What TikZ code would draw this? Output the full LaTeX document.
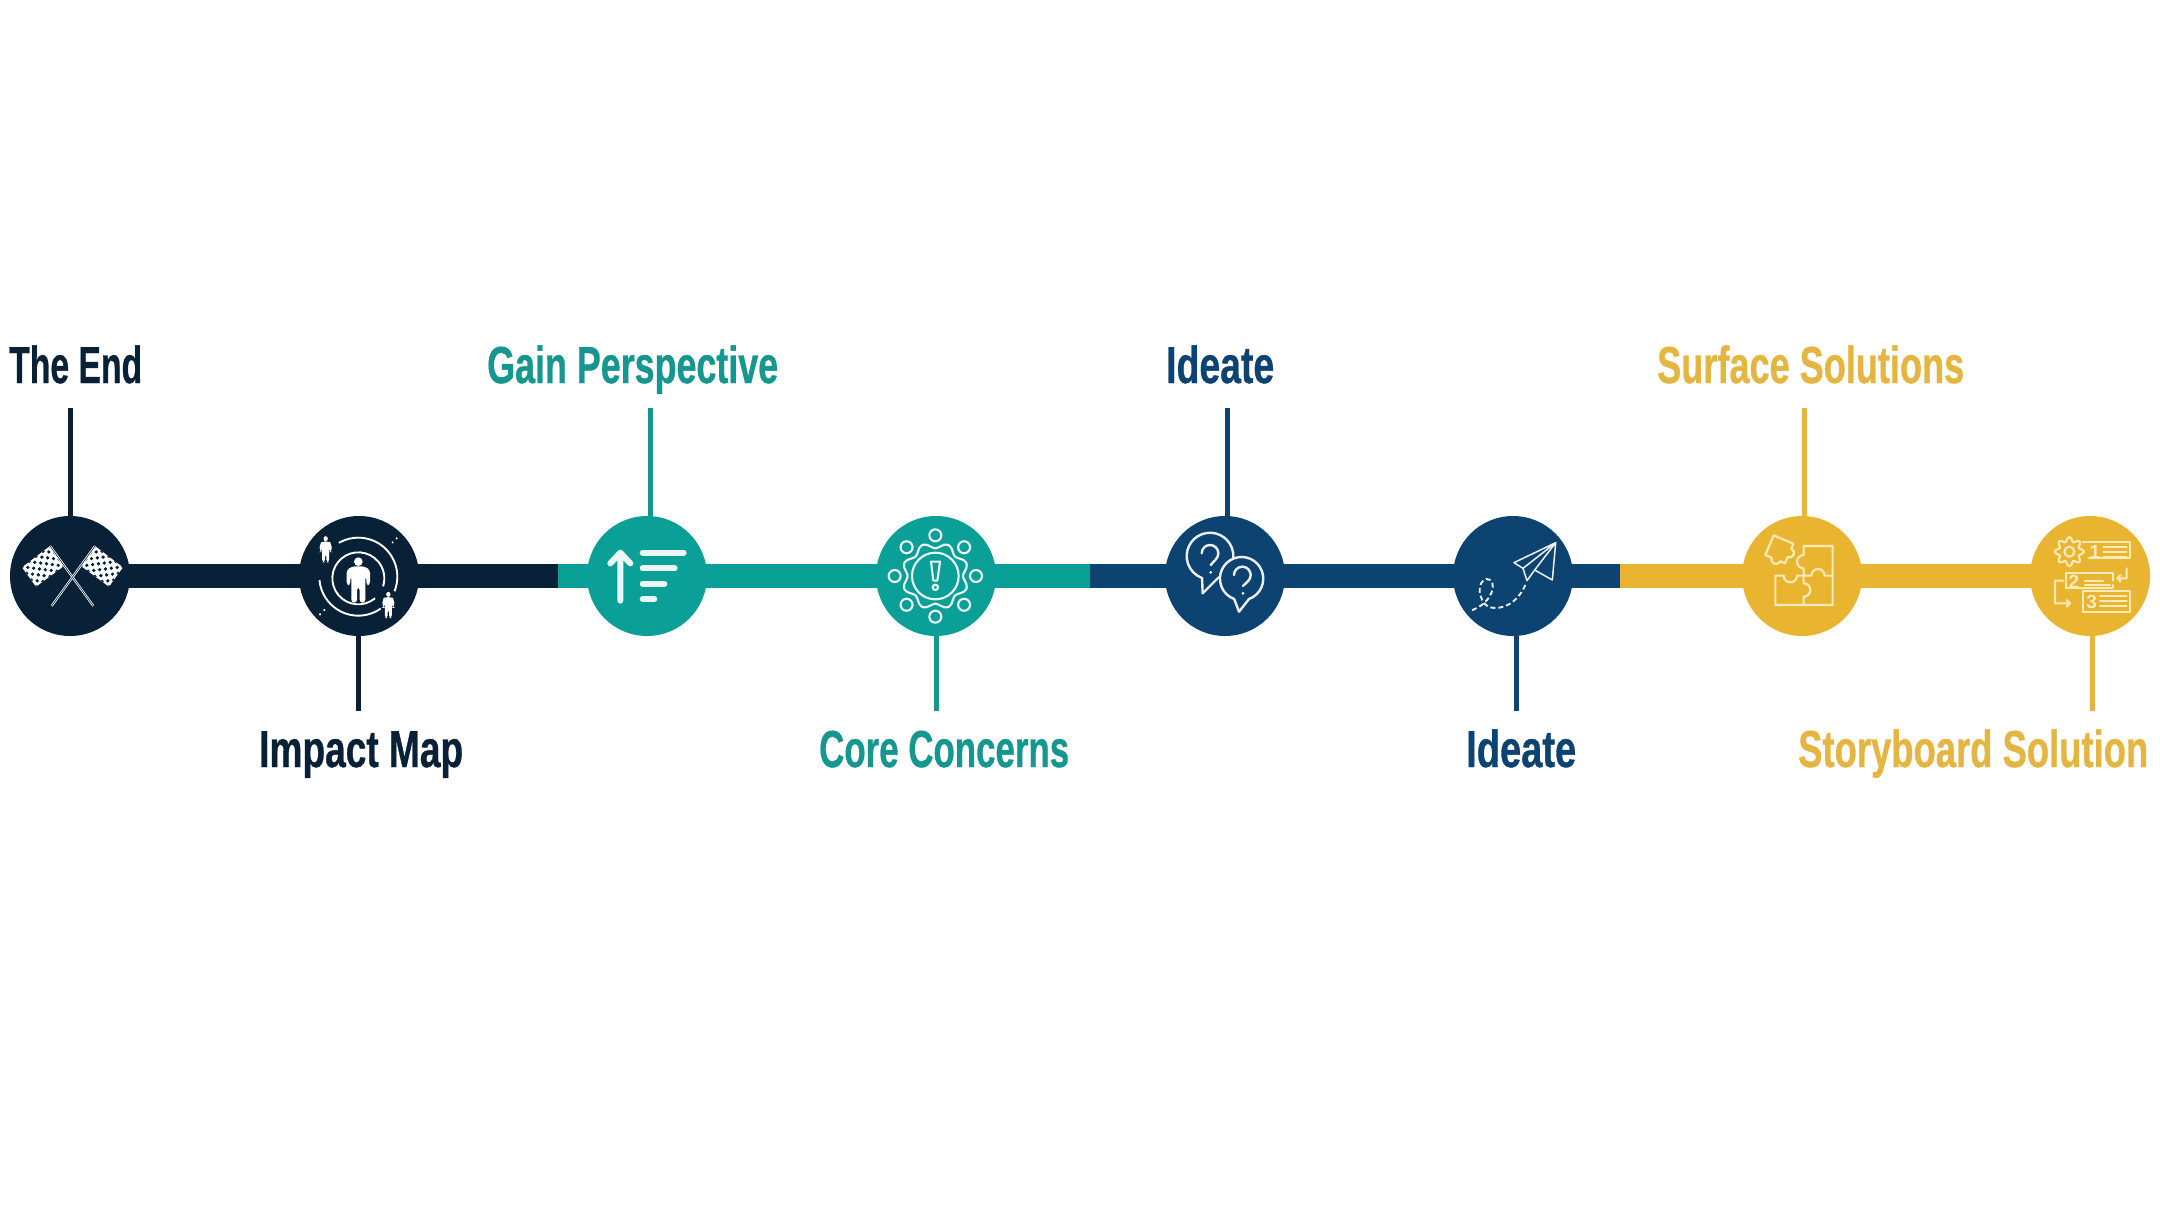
\documentclass[tikz,border=0pt]{standalone}
\usepackage{fontspec}
\usepackage{graphicx}
\usetikzlibrary{backgrounds}
\newfontfamily\lab[BoldFeatures={FakeBold=0.8}]{Liberation Sans}
\newfontfamily\dig{Liberation Sans}
\definecolor{navy}{HTML}{082137}
\definecolor{teal2}{HTML}{0AA098}
\definecolor{blue2}{HTML}{0C4370}
\definecolor{gold}{HTML}{E9B430}
\definecolor{tealT}{HTML}{15978F}
\definecolor{goldT}{HTML}{E4B540}
\definecolor{goldI}{HTML}{FBEBB8}
\newcommand{\lbltext}[2]{\resizebox{#1pt}{\height}{\fontsize{52}{60}\selectfont\lab\bfseries #2}}
\newcommand{\personicon}{%
  \fill (0,-55) circle[radius=13];
  \fill[rounded corners=3] (-18,-41)--(18,-41)--(35,-30)--(35,15)--(24,15)--(24,-12)--(21,-12)--(21,68)--(4,68)--(4,22)--(-4,22)--(-4,68)--(-21,68)--(-21,-12)--(-24,-12)--(-24,15)--(-35,15)--(-35,-30)--cycle;
}
\tikzset{
  hub/.style={circle,minimum size=120pt,inner sep=0pt,fill=#1},
  bar/.style={line width=24pt,draw=#1},
  stem/.style={line width=5pt,draw=#1},
  label/.style={anchor=base west,inner sep=0pt,text=#1},
  crop/.style={scale=0.33333},
  ico/.style={draw=#1,line width=2.1pt,line cap=round,line join=round},
}
\begin{document}
\begin{tikzpicture}[yscale=-1,x=1pt,y=1pt]
\useasboundingbox (0,0) rectangle (2160,1215);
% hubs
\node[hub=navy]  (c1) at (70,576)   {};
\node[hub=navy]  (c2) at (359,576)  {};
\node[hub=teal2] (c3) at (647,576)  {};
\node[hub=teal2] (c4) at (936,576)  {};
\node[hub=blue2] (c5) at (1225,576) {};
\node[hub=blue2] (c6) at (1513,576) {};
\node[hub=gold]  (c7) at (1802,576) {};
\node[hub=gold]  (c8) at (2090,576) {};
\coordinate (b1) at (558,576);
\coordinate (b2) at (1090,576);
\coordinate (b3) at (1620,576);
\begin{scope}[on background layer]
  \fill[white] (0,0) rectangle (2160,1215);
  \draw[bar=navy] (c1.center)--(c2.center)--(b1);
  \draw[bar=teal2] (b1)--(c3.center)--(c4.center)--(b2);
  \draw[bar=blue2] (b2)--(c5.center)--(c6.center)--(b3);
  \draw[bar=gold] (b3)--(c7.center)--(c8.center);
\end{scope}
% stems
\coordinate (s1) at (70,408);
\coordinate (s2) at (358,711);
\coordinate (s3) at (650,408);
\coordinate (s4) at (936,711);
\coordinate (s5) at (1227,408);
\coordinate (s6) at (1516,711);
\coordinate (s7) at (1804,408);
\coordinate (s8) at (2092,711);
\draw[stem=navy]  (s1)--(s1|-c1.north);
\draw[stem=navy]  (s2)--(s2|-c2.south);
\draw[stem=tealT] (s3)--(s3|-c3.north);
\draw[stem=tealT] (s4)--(s4|-c4.south);
\draw[stem=blue2] (s5)--(s5|-c5.north);
\draw[stem=blue2] (s6)--(s6|-c6.south);
\draw[stem=goldT] (s7)--(s7|-c7.north);
\draw[stem=goldT] (s8)--(s8|-c8.south);
% labels
\node[label=navy]  (t1) at (9,383)    {\lbltext{133}{The End}};
\node[label=navy]  (t2) at (259,767)  {\lbltext{204}{Impact Map}};
\node[label=tealT] (t3) at (487,383)  {\lbltext{291}{Gain Perspective}};
\node[label=tealT] (t4) at (819,767)  {\lbltext{250}{Core Concerns}};
\node[label=blue2] (t5) at (1166,383) {\lbltext{108}{Ideate}};
\node[label=blue2] (t6) at (1466,767) {\lbltext{110}{Ideate}};
\node[label=goldT] (t7) at (1657,383) {\lbltext{307}{Surface Solutions}};
\node[label=goldT] (t8) at (1798,767) {\lbltext{350}{Storyboard Solution}};
% icon 1: flags
\begin{scope}[shift={(0,510)},crop]
  \foreach \ax/\sx in {150/-1,285/1}{
    \fill[white] (\ax,108) -- ++({\sx*(-42)},60) -- ++({\sx*84},62) -- ++({\sx*42},-58) -- cycle;
    \begin{scope}
      \clip (\ax,108) -- ++({\sx*(-42)},60) -- ++({\sx*84},62) -- ++({\sx*42},-58) -- cycle;
      \foreach \i in {0,...,8}\foreach \j in {0,...,6}{
        \pgfmathparse{int(mod(\i+\j,2))}
        \ifnum\pgfmathresult=0
        \fill[navy] ({\ax+\sx*(84*\i/8-42*\j/6)},{108+62*\i/8+60*\j/6}) circle[radius=5.5];
        \fi
      }
    \end{scope}
    \draw[white,line width=2.2pt] (\ax,108)--({\ax+\sx*(-130)},288);
    \draw[navy,line width=0.6pt] (\ax,108)--({\ax+\sx*(-130)},288);
  }
\end{scope}
% icon 2: people
\begin{scope}[shift={(290,510)},crop]
  \begin{scope}[white,shift={(205,210)}]\personicon\end{scope}
  \begin{scope}[white,shift={(107,118)},xscale=0.5,yscale=0.58]\personicon\end{scope}
  \begin{scope}[white,shift={(295,285)},xscale=0.5,yscale=0.58]\personicon\end{scope}
  \draw[white,line width=1.9pt] (205,205)++(50:78) arc[start angle=50,end angle=378,radius=78];
  \draw[white,line width=1.9pt] (205,200)++(240:117) arc[start angle=240,end angle=382,radius=117];
  \draw[white,line width=1.9pt] (205,200)++(175:117) arc[start angle=175,end angle=55,radius=117];
  \fill[white] (320,85) circle[radius=3.5] (308,97) circle[radius=3.5] (103,300) circle[radius=3.5] (90,313) circle[radius=3.5];
\end{scope}
% icon 3: sort list
\begin{scope}[shift={(577,510)},crop]
  \draw[white!92!teal2,line width=6pt,line cap=round,line join=round] (130,272)--(130,128) (100,160)--(130,128)--(160,160);
  \draw[white!92!teal2,line width=6pt,line cap=round] (197,128)--(320,128) (197,175)--(293,175) (197,221)--(262,221) (197,267)--(232,267);
\end{scope}
% icon 4: concerns
\begin{scope}[shift={(866,510)},crop]
  \begin{scope}[ico=white!92!teal2]
    \draw (208,198) circle[radius=70];
    \draw (195,155)--(222,155)--(214,212)--(202,212)--cycle;
    \draw (208,232) circle[radius=8];
    \foreach \a in {0,45,...,315}\draw ({208+122*cos(\a)},{198+122*sin(\a)}) circle[radius=18];
    \draw plot[domain=0:352.5,samples=48,smooth cycle] ({208+(92-9*cos(8*\x))*cos(\x)},{198+(92-9*cos(8*\x))*sin(\x)});
  \end{scope}
\end{scope}
% icon 5: bubbles
\begin{scope}[shift={(1155,510)},crop]
  \begin{scope}[ico=white!92!blue2,line width=2.4pt]
    \draw (189,204) arc[start angle=70,end angle=-250,radius=70] -- (143,250) -- cycle;
    \draw[fill=blue2] (282,267) arc[start angle=70,end angle=-250,radius=65] -- (252,305) -- cycle;
    \draw (140,130) arc[start angle=180,end angle=405,radius=25] -- (167,165);
    \fill[white] (167,187) circle[radius=4.5];
    \draw (237,195) arc[start angle=180,end angle=405,radius=25] -- (264,228);
    \fill[white] (264,250) circle[radius=4.5];
  \end{scope}
\end{scope}
% icon 6: paper plane
\begin{scope}[shift={(1443,510)},crop]
  \begin{scope}[ico=white!92!blue2]
    \draw[line width=1.5pt] (338,98)--(213,158)--(240,175)--cycle;
    \draw[line width=1.5pt] (240,175)--(252,212)--(275,180);
    \draw[line width=1.5pt] (338,98)--(275,180)--(328,210)--cycle;
    \draw[dash pattern=on 5pt off 3pt,line width=1.9pt,line cap=butt] (247,225) .. controls (225,275) and (180,305) .. (135,290) .. controls (105,270) and (100,215) .. (130,207) .. controls (165,205) and (155,280) .. (80,303);
  \end{scope}
\end{scope}
% icon 7: puzzle
\begin{scope}[shift={(1732,510)},crop]
  \begin{scope}[ico=goldI]
    \draw (215,135)--(215,108)--(302,108)--(302,285)--(130,285)--(130,197)--(155,197) arc[start angle=180,end angle=0,radius=20] --(215,197)--(215,175) arc[start angle=90,end angle=270,radius=20]--cycle;
    \draw (215,197)--(238,197) arc[start angle=180,end angle=360,radius=20]--(302,197);
    \draw (215,197)--(215,220) arc[start angle=-90,end angle=90,radius=20]--(215,285);
    \begin{scope}[shift={(142,118)},rotate=23]
      \draw (-32,-32)--(32,-32)--(32,-16) arc[start angle=-90,end angle=90,radius=14] --(32,32)--(16,32) arc[start angle=0,end angle=180,radius=14]--(-32,32)--cycle;
    \end{scope}
  \end{scope}
\end{scope}
% icon 8: storyboard
\begin{scope}[shift={(2020,510)},crop]
  \begin{scope}[ico=goldI]
    \draw[fill=gold] plot[domain=0:352.5,samples=48,smooth cycle] ({148+(37+7*cos(8*\x))*cos(\x)},{125+(37+7*cos(8*\x))*sin(\x)});
    \draw (148,125) circle[radius=15];
    \draw (188,95)--(330,95)--(330,145)--(205,145);
    \draw (250,110)--(320,110) (250,125)--(320,125) (250,140)--(320,140);
    \draw (280,212)--(280,188)--(138,188)--(138,235)--(280,235)--(280,225);
    \draw (195,212)--(250,212) (195,226)--(270,226);
    \draw (190,242)--(330,242)--(330,305)--(190,305)--cycle;
    \draw (240,257)--(320,257) (240,272)--(320,272) (240,288)--(320,288);
    \draw (320,175)--(320,205)--(292,205) (302,195)--(292,205)--(302,215);
    \draw (130,212)--(105,212)--(105,280)--(150,280) (140,270)--(150,280)--(140,290);
  \end{scope}
  \node[text=goldI,inner sep=0pt,font=\dig\bfseries\fontsize{19}{19}\selectfont] (n1) at (225,125) {1};
  \node[text=goldI,inner sep=0pt,font=\dig\bfseries\fontsize{19}{19}\selectfont] (n2) at (162,215) {2};
  \node[text=goldI,inner sep=0pt,font=\dig\bfseries\fontsize{19}{19}\selectfont] (n3) at (215,275) {3};
\end{scope}
\end{tikzpicture}
\end{document}
